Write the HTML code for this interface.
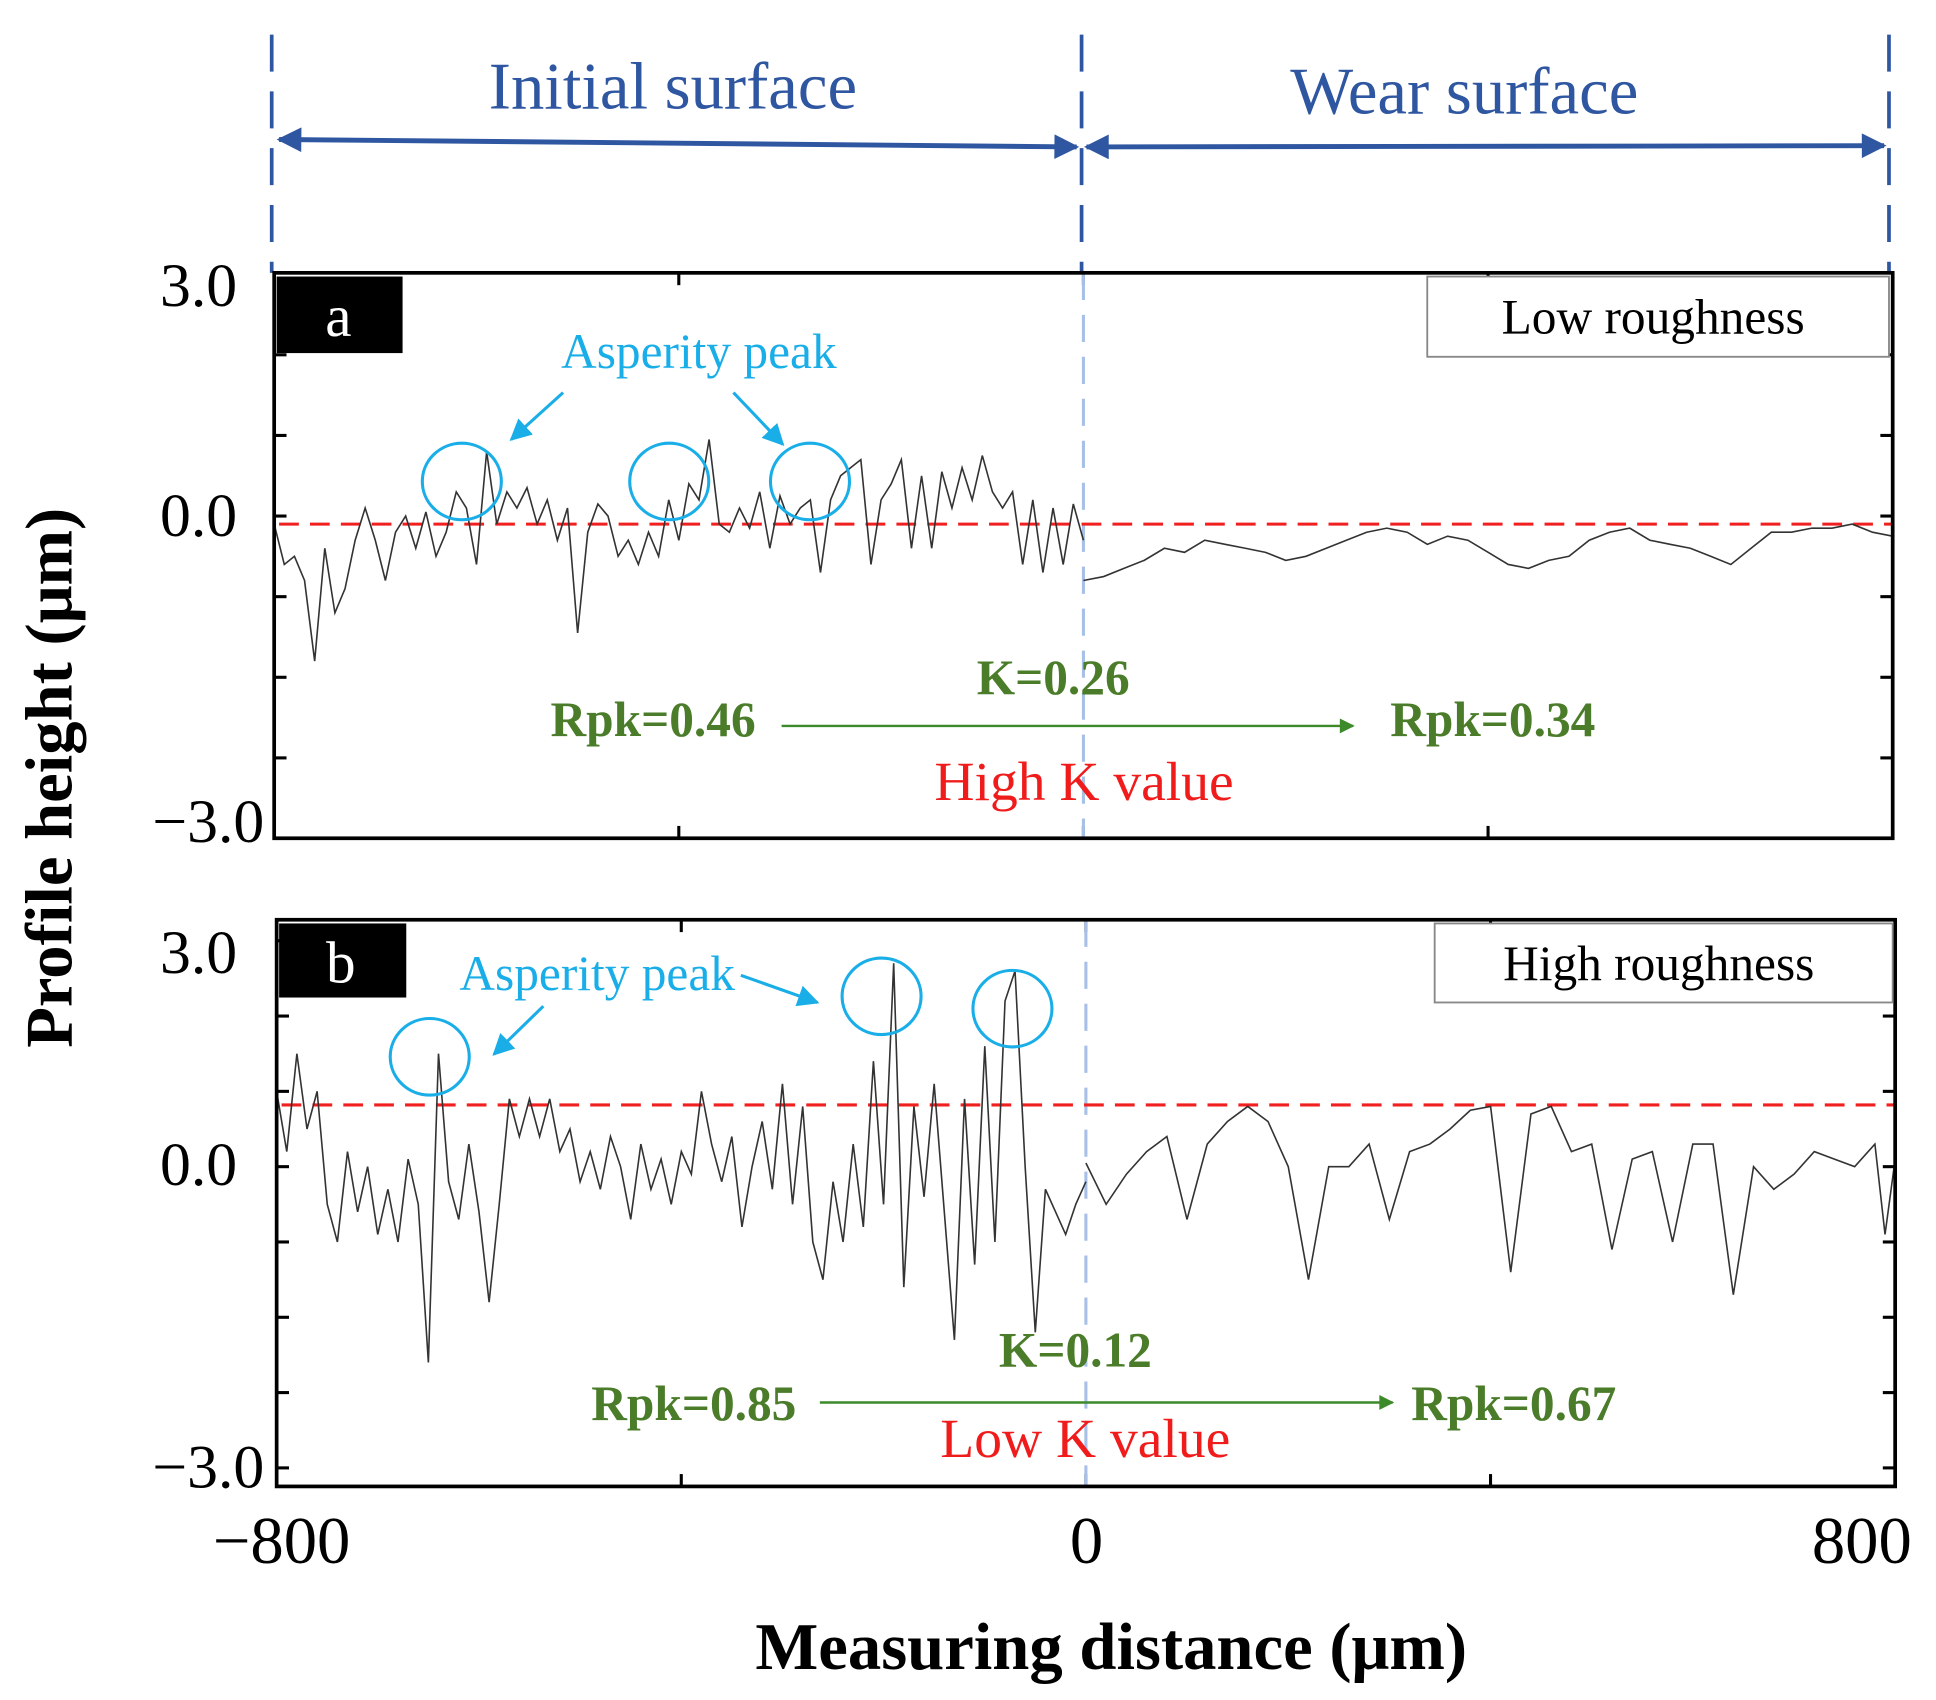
<!DOCTYPE html>
<html><head><meta charset="utf-8"><style>
html,body{margin:0;padding:0;background:#fff}
svg{display:block}
text{font-family:"Liberation Serif",serif}
</style></head><body>
<svg id="chart" width="1936" height="1700" viewBox="0 0 1568 1377" xmlns="http://www.w3.org/2000/svg">
<defs>
<marker id="ab" viewBox="0 0 10 10" refX="9" refY="5" markerWidth="6" markerHeight="5" orient="auto-start-reverse"><path d="M0,0L10,5L0,10z" fill="#2f56a0"/></marker>
<marker id="ac" viewBox="0 0 10 10" refX="9" refY="5" markerWidth="7" markerHeight="7" orient="auto"><path d="M0,0L10,5L0,10z" fill="#1aaee8"/></marker>
<marker id="ag" viewBox="0 0 10 10" refX="9" refY="5" markerWidth="7" markerHeight="6" orient="auto"><path d="M0,0L10,5L0,10z" fill="#3c8a2a"/></marker>
</defs>
<g stroke="#2f56a0" fill="none">
<line x1="220" y1="28" x2="220" y2="221" stroke-width="3" stroke-dasharray="30,16"/>
<line x1="876" y1="28" x2="876" y2="221" stroke-width="3" stroke-dasharray="30,16"/>
<line x1="1530" y1="28" x2="1530" y2="221" stroke-width="3" stroke-dasharray="30,16"/>
<line x1="226" y1="113" x2="872" y2="119" stroke-width="4" marker-start="url(#ab)" marker-end="url(#ab)"/>
<line x1="880" y1="119" x2="1526" y2="118" stroke-width="4" marker-start="url(#ab)" marker-end="url(#ab)"/>
</g>
<text x="545" y="88" font-size="54" fill="#2f56a0" text-anchor="middle">Initial surface</text>
<text x="1186" y="92" font-size="54" fill="#2f56a0" text-anchor="middle">Wear surface</text>
<g id="plots"></g>
<text x="900" y="1352" font-size="54" font-weight="bold" text-anchor="middle">Measuring distance (μm)</text>
<text transform="translate(58,630) rotate(-90)" font-size="54" font-weight="bold" text-anchor="middle">Profile height (μm)</text>
</svg>
<script>
const xTickLabels = ["−800", "0", "800"];
const xTickValues = [-800, 0, 800];
const yTickLabels = ["3.0", "0.0", "−3.0"];
const xInitA = [-800,-790,-780,-770,-760,-750,-740,-730,-720,-710,-700,-690,-680,-670,-660,-650,-640,-630,-620,-610,-600,-590,-580,-570,-560,-550,-540,-530,-520,-510,-500,-490,-480,-470,-460,-450,-440,-430,-420,-410,-400,-390,-380,-370,-360,-350,-340,-330,-320,-310,-300,-290,-280,-270,-260,-250,-240,-230,-220,-210,-200,-190,-180,-170,-160,-150,-140,-130,-120,-110,-100,-90,-80,-70,-60,-50,-40,-30,-20,-10,0];
const yInitA = [-0.1,-0.6,-0.5,-0.8,-1.8,-0.4,-1.2,-0.9,-0.3,0.1,-0.3,-0.8,-0.2,0.0,-0.4,0.05,-0.5,-0.2,0.3,0.1,-0.6,0.8,-0.1,0.3,0.1,0.35,-0.1,0.2,-0.3,0.1,-1.45,-0.2,0.15,0.0,-0.5,-0.3,-0.6,-0.2,-0.5,0.2,-0.3,0.4,0.2,0.95,-0.1,-0.2,0.1,-0.15,0.3,-0.4,0.25,-0.1,0.1,0.2,-0.7,0.2,0.5,0.6,0.7,-0.6,0.2,0.4,0.7,-0.4,0.5,-0.4,0.55,0.1,0.6,0.2,0.75,0.3,0.1,0.3,-0.6,0.2,-0.7,0.1,-0.6,0.15,-0.3];
const xWearA = [0,20,40,60,80,100,120,140,160,180,200,220,240,260,280,300,320,340,360,380,400,420,440,460,480,500,520,540,560,580,600,620,640,660,680,700,720,740,760,780,800];
const yWearA = [-0.8,-0.75,-0.65,-0.55,-0.4,-0.45,-0.3,-0.35,-0.4,-0.45,-0.55,-0.5,-0.4,-0.3,-0.2,-0.15,-0.2,-0.35,-0.25,-0.3,-0.45,-0.6,-0.65,-0.55,-0.5,-0.3,-0.2,-0.15,-0.3,-0.35,-0.4,-0.5,-0.6,-0.4,-0.2,-0.2,-0.15,-0.15,-0.1,-0.2,-0.25];
const xInitB = xInitA;
const yInitB = [1.0,0.2,1.5,0.5,1.0,-0.5,-1.0,0.2,-0.6,0.0,-0.9,-0.3,-1.0,0.1,-0.5,-2.6,1.5,-0.2,-0.7,0.3,-0.6,-1.8,-0.5,0.9,0.4,0.9,0.4,0.9,0.2,0.5,-0.2,0.2,-0.3,0.4,0.0,-0.7,0.3,-0.3,0.1,-0.5,0.2,-0.1,1.0,0.3,-0.2,0.4,-0.8,0.0,0.6,-0.3,1.1,-0.5,0.8,-1.0,-1.5,-0.2,-1.0,0.3,-0.8,1.4,-0.5,2.7,-1.6,0.8,-0.4,1.1,-0.6,-2.3,0.9,-1.3,1.6,-1.0,2.2,2.6,0.0,-2.2,-0.3,-0.6,-0.9,-0.5,-0.2];
const xWearB = [0,20,40,60,80,100,120,140,160,180,200,220,240,260,280,300,320,340,360,380,400,420,440,460,480,500,520,540,560,580,600,620,640,660,680,700,720,740,760,780,790,800];
const yWearB = [0.05,-0.5,-0.1,0.2,0.4,-0.7,0.3,0.6,0.8,0.6,0.0,-1.5,0.0,0.0,0.3,-0.7,0.2,0.3,0.5,0.75,0.8,-1.4,0.7,0.8,0.2,0.3,-1.1,0.1,0.2,-1.0,0.3,0.3,-1.7,0.0,-0.3,-0.1,0.2,0.1,0.0,0.3,-0.9,0.1];
const refLevels = [-0.1, 0.82];
const panelNames = ["a","b"];
const legendTexts = ["Low roughness","High roughness"];
const kTexts = ["K=0.26","K=0.12"];
const rpkBefore = ["Rpk=0.46","Rpk=0.85"];
const rpkAfter = ["Rpk=0.34","Rpk=0.67"];
const kValueTexts = ["High K value","Low K value"];

const NS="http://www.w3.org/2000/svg";
const root=document.getElementById('plots');
function mk(tag,attrs,parent,txt){const e=document.createElementNS(NS,tag);for(const k in attrs)e.setAttribute(k,attrs[k]);if(txt!==undefined)e.textContent=txt;(parent||root).appendChild(e);return e;}

const panels=[
 {L:222,R:1533,T:221,B:679,zero:418,ppu:65.3,data:[[xInitA,yInitA],[xWearA,yWearA]],
  ylab:[248,434,682],circles:[[374,390],[542,390],[656,390]],
  asp:{x:566,y:298,anchor:"middle"},arrows:[[456,318,414,356],[594,318,634,360]],
  leg:[1156,224,374,65],lab:[224,224,102,62],
  k:[853,562],rpk:[612,596,633,1096,588,1126],kv:[878,648]},
 {L:224,R:1535,T:745,B:1204,zero:945,ppu:61,data:[[xInitB,yInitB],[xWearB,yWearB]],
  ylab:[788,960,1205],circles:[[348,856],[714,807],[820,817]],
  asp:{x:372,y:802,anchor:"start"},arrows:[[440,815,400,854],[600,790,662,812]],
  leg:[1162,748,371,64],lab:[226,748,103,60],
  k:[871,1107],rpk:[645,1150,664,1128,1136,1143],kv:[879,1180]}
];

panels.forEach((p,i)=>{
 const g=mk('g',{});
 
 
 const xs=v=>p.L+(v+800)/1600*(p.R-p.L);
 const ys=v=>p.zero-v*p.ppu;
 for(let u=-4;u<=3;u++){const y=ys(u);if(y<p.T+2||y>p.B-2)continue;
  const t1=mk('line',{x1:p.L,x2:p.L+10,y1:y,y2:y,stroke:'#000','stroke-width':2.5},g);
  
  const t2=mk('line',{x1:p.R-10,x2:p.R,y1:y,y2:y,stroke:'#000','stroke-width':2.5},g);
  }
 [-400,0,400].forEach(v=>{const x=xs(v);
  const a=mk('line',{x1:x,x2:x,y1:p.B,y2:p.B-10,stroke:'#000','stroke-width':2.5},g);
  
  const b=mk('line',{x1:x,x2:x,y1:p.T,y2:p.T+10,stroke:'#000','stroke-width':2.5},g);
  });
 const dv=mk('line',{x1:xs(0),x2:xs(0),y1:p.T,y2:p.B,stroke:'#a8c0e8','stroke-width':2.5,'stroke-dasharray':'22,12'},g);
 
 const rl=mk('line',{x1:p.L+4,x2:p.R,y1:ys(refLevels[i]),y2:ys(refLevels[i]),stroke:'#f02020','stroke-width':2.5,'stroke-dasharray':'16,9'},g);
 
 p.data.forEach((d,j)=>{const pts=d[0].map((x,k)=>xs(x).toFixed(1)+','+ys(d[1][k]).toFixed(1)).join(' ');
  const pl=mk('polyline',{points:pts,fill:'none',stroke:'#333','stroke-width':1.3},g);
  });
 const fr=mk('rect',{x:p.L,y:p.T,width:p.R-p.L,height:p.B-p.T,fill:'none',stroke:'#000','stroke-width':3},g);
 
 yTickLabels.forEach((t,k)=>{const e=mk('text',{x:k==2?214:192,y:p.ylab[k],'font-size':50,'text-anchor':'end'},g,t);
  });
 p.circles.forEach(c=>{const e=mk('ellipse',{cx:c[0],cy:c[1],rx:32,ry:31,fill:'none',stroke:'#1aaee8','stroke-width':2.5},g);
  });
 const at=mk('text',{x:p.asp.x,y:p.asp.y,'font-size':40,fill:'#1aaee8','text-anchor':p.asp.anchor},g,'Asperity peak');
 
 p.arrows.forEach(a=>{const e=mk('line',{x1:a[0],y1:a[1],x2:a[2],y2:a[3],stroke:'#1aaee8','stroke-width':2.5,'marker-end':'url(#ac)'},g);
  });
 const lr=mk('rect',{x:p.leg[0],y:p.leg[1],width:p.leg[2],height:p.leg[3],fill:'#fff',stroke:'#888','stroke-width':1.5},g);
 
 const lt=mk('text',{x:p.leg[0]+p.leg[2]/2-4,y:p.leg[1]+46,'font-size':40,'text-anchor':'middle'},g,legendTexts[i]);
 
 const pb=mk('rect',{x:p.lab[0],y:p.lab[1],width:p.lab[2],height:p.lab[3],fill:'#000'},g);
 
 const pt=mk('text',{x:p.lab[0]+50,y:p.lab[1]+48,'font-size':48,fill:'#fff','text-anchor':'middle'},g,panelNames[i]);
 
 const kt=mk('text',{x:p.k[0],y:p.k[1],'font-size':40,'font-weight':'bold',fill:'#4a7c2a','text-anchor':'middle'},g,kTexts[i]);
 
 const r1=mk('text',{x:p.rpk[0],y:p.rpk[1],'font-size':40,'font-weight':'bold',fill:'#4a7c2a','text-anchor':'end'},g,rpkBefore[i]);
 
 const ga=mk('line',{x1:p.rpk[2],x2:p.rpk[3],y1:p.rpk[4],y2:p.rpk[4],stroke:'#3c8a2a','stroke-width':2,'marker-end':'url(#ag)'},g);
 
 const r2=mk('text',{x:p.rpk[5],y:p.rpk[1],'font-size':40,'font-weight':'bold',fill:'#4a7c2a'},g,rpkAfter[i]);
 
 const kv=mk('text',{x:p.kv[0],y:p.kv[1],'font-size':45,fill:'#f01c1c','text-anchor':'middle'},g,kValueTexts[i]);
 
 if(i===1){xTickValues.forEach((v,k)=>{const e=mk('text',{x:[228,880,1508][k],y:1266,'font-size':54,'text-anchor':'middle'},g,xTickLabels[k]);
  });}
});
</script>
</body></html>
